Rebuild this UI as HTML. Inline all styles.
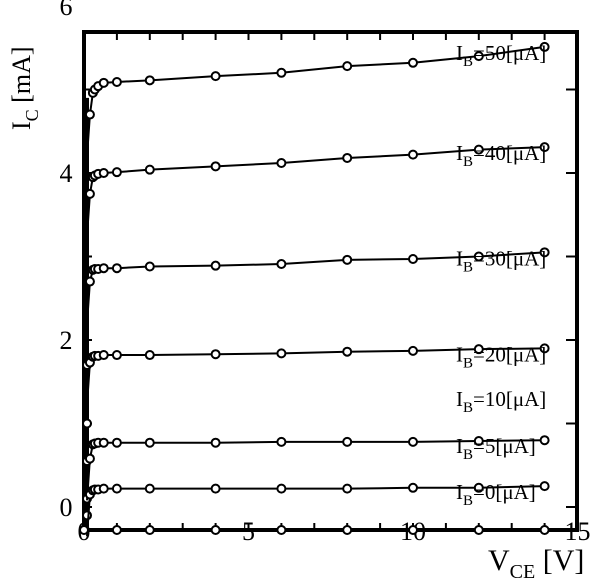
<!DOCTYPE html>
<html><head><meta charset="utf-8"><style>
body{margin:0;background:#fff}
svg{display:block;font-family:"Liberation Serif",serif}
</style></head><body>
<svg id="c" width="604" height="586"></svg>
<script>
const vce=[0.18,0.27,0.33,0.43,0.6,1,2,4,6,8,10,12,14];
const ib50=[4.7,4.96,5.0,5.04,5.08,5.09,5.11,5.16,5.2,5.28,5.32,5.4,5.51];
const ib40=[3.75,3.95,3.97,3.99,4.0,4.01,4.04,4.08,4.12,4.18,4.22,4.28,4.31];
const ib30=[2.7,2.84,2.85,2.85,2.86,2.86,2.88,2.89,2.91,2.96,2.97,3.0,3.05];
const ib20=[1.73,1.8,1.81,1.81,1.82,1.82,1.82,1.83,1.84,1.86,1.87,1.89,1.9];
const ib5=[0.58,0.75,0.76,0.77,0.77,0.77,0.77,0.77,0.78,0.78,0.78,0.79,0.8];
const ib0=[0.15,0.2,0.21,0.21,0.22,0.22,0.22,0.22,0.22,0.22,0.23,0.23,0.25];
const seriesNames=["50","40","30","20","5","0"];
const seriesVals=[ib50,ib40,ib30,ib20,ib5,ib0];
const xTicks=["0","5","10","15"];
const yTicks=["0","2","4","6"];
const NS="http://www.w3.org/2000/svg",svg=document.getElementById('c');
const X=v=>84+v*32.9, Y=v=>507-v*83.5;
function el(t,a,p){const e=document.createElementNS(NS,t);for(const k in a)e.setAttribute(k,a[k]);(p||svg).appendChild(e);return e;}
const frame=el('rect',{x:84,y:32,width:493,height:498,fill:'none',stroke:'#000','stroke-width':4});


for(let i=1;i<15;i++){el('line',{x1:X(i),x2:X(i),y1:530,y2:523,stroke:'#000','stroke-width':2});el('line',{x1:X(i),x2:X(i),y1:32,y2:40,stroke:'#000','stroke-width':2});}
for(let v=0;v<=5;v++){el('line',{x1:577,x2:566,y1:Y(v),y2:Y(v),stroke:'#000','stroke-width':2});el('line',{x1:84,x2:92,y1:Y(v),y2:Y(v),stroke:'#000','stroke-width':2});}
xTicks.forEach((t,i)=>{const e=el('text',{x:X(i*5),y:540,'font-size':26,'text-anchor':'middle'});e.textContent=t;

});
yTicks.forEach((t,i)=>{const e=el('text',{x:66,y:Y(i*2)+9,'font-size':26,'text-anchor':'middle'});e.textContent=t;

});
el('line',{x1:87,x2:87,y1:530,y2:Y(4.9),stroke:'#000','stroke-width':4});
[-0.1,0.1,0.55,1.0,1.7].forEach(v=>{const c=el('circle',{cx:87,cy:Y(v),r:4,fill:'#fff',stroke:'#000','stroke-width':2});

});
seriesVals.forEach((vals,s)=>{
 const g=el('g',{});
 
 
 el('polyline',{points:'87,'+Y(vals[0]-0.5)+' '+vce.map((x,i)=>X(x)+','+Y(vals[i])).join(' '),fill:'none',stroke:'#000','stroke-width':2},g);
 vce.forEach((x,i)=>{const c=el('circle',{cx:X(x),cy:Y(vals[i]),r:4,fill:'#fff',stroke:'#000','stroke-width':2},g);
 
 });
 const t=el('text',{x:456,y:Y(vals[12])+13,'font-size':21},g);
 t.innerHTML='I<tspan dy="6" font-size="15">B</tspan><tspan dy="-6">='+seriesNames[s]+'[μA]</tspan>';
});
const t10=el('text',{x:456,y:406,'font-size':21});
t10.innerHTML='I<tspan dy="6" font-size="15">B</tspan><tspan dy="-6">=10[μA]</tspan>';


const base=[0,1,2,4,6,8,10,12,14];
base.forEach(x=>{const c=el('circle',{cx:X(x),cy:530,r:4,fill:'#fff',stroke:'#000','stroke-width':2});

});
const xl=el('text',{x:488,y:570,'font-size':30});
xl.innerHTML='V<tspan dy="8" font-size="20">CE</tspan><tspan dy="-8"> [V]</tspan>';


const yl=el('text',{transform:'translate(30,130) rotate(-90)','font-size':26});
yl.innerHTML='I<tspan dy="8" font-size="18">C</tspan><tspan dy="-8"> [mA]</tspan>';


</script>
</body></html>
